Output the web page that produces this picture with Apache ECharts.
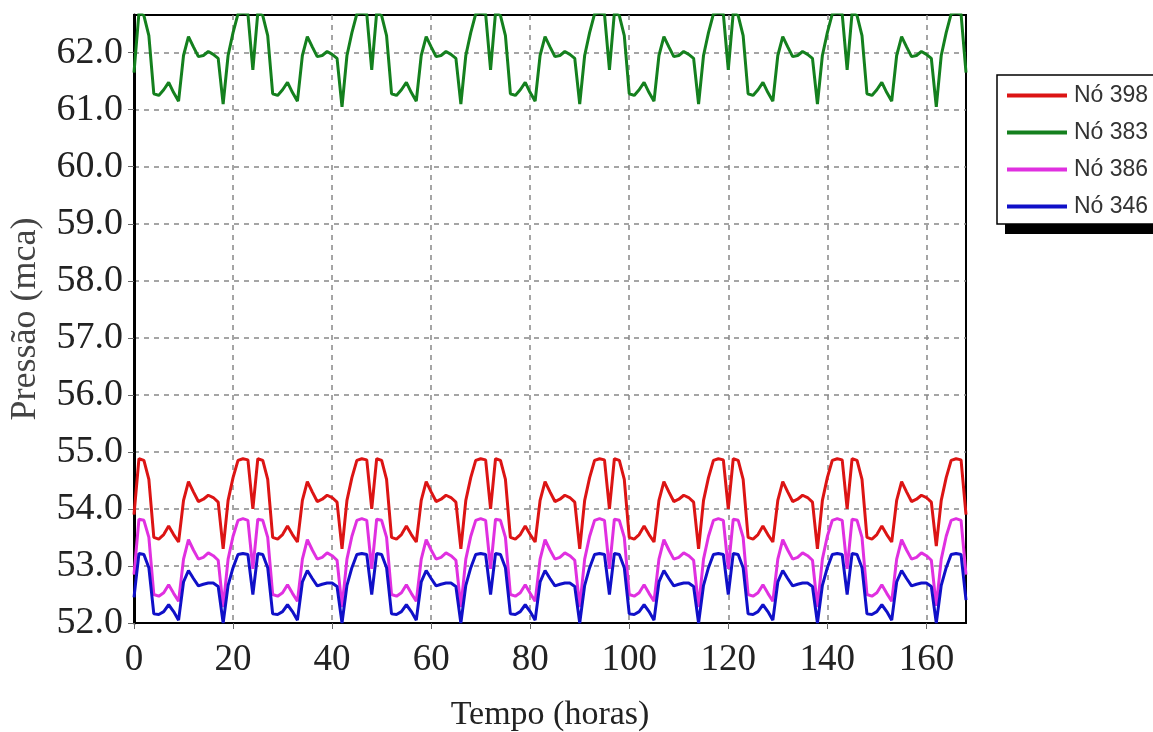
<!DOCTYPE html>
<html>
<head>
<meta charset="utf-8">
<script src="https://cdn.jsdelivr.net/npm/echarts@6/dist/echarts.min.js"></script>
<style>
  html, body { margin: 0; padding: 0; background: #fff; }
  #chart { width: 1153px; height: 732px; }
</style>
</head>
<body>
<div id="chart"></div>
<script>
// hourly values, t = 0..168 h
const hours = [
  0, 1, 2, 3, 4, 5, 6, 7, 8, 9, 10, 11, 12, 13, 14, 15, 16, 17, 18, 19, 20, 21, 22, 23,
  24, 25, 26, 27, 28, 29, 30, 31, 32, 33, 34, 35, 36, 37, 38, 39, 40, 41, 42, 43, 44, 45, 46, 47,
  48, 49, 50, 51, 52, 53, 54, 55, 56, 57, 58, 59, 60, 61, 62, 63, 64, 65, 66, 67, 68, 69, 70, 71,
  72, 73, 74, 75, 76, 77, 78, 79, 80, 81, 82, 83, 84, 85, 86, 87, 88, 89, 90, 91, 92, 93, 94, 95,
  96, 97, 98, 99, 100, 101, 102, 103, 104, 105, 106, 107, 108, 109, 110, 111, 112, 113, 114, 115, 116, 117, 118, 119,
  120, 121, 122, 123, 124, 125, 126, 127, 128, 129, 130, 131, 132, 133, 134, 135, 136, 137, 138, 139, 140, 141, 142, 143,
  144, 145, 146, 147, 148, 149, 150, 151, 152, 153, 154, 155, 156, 157, 158, 159, 160, 161, 162, 163, 164, 165, 166, 167,
  168
];

const no398 = [
  53.9, 54.88, 54.85, 54.52, 53.5, 53.47, 53.55, 53.7, 53.55, 53.42, 54.15, 54.48, 54.3, 54.13, 54.17, 54.24, 54.2, 54.12, 53.3, 54.15, 54.55, 54.85, 54.88, 54.86,
  54.0, 54.88, 54.85, 54.52, 53.5, 53.47, 53.55, 53.7, 53.55, 53.42, 54.15, 54.48, 54.3, 54.13, 54.17, 54.24, 54.2, 54.12, 53.3, 54.15, 54.55, 54.85, 54.88, 54.86,
  54.0, 54.88, 54.85, 54.52, 53.5, 53.47, 53.55, 53.7, 53.55, 53.42, 54.15, 54.48, 54.3, 54.13, 54.17, 54.24, 54.2, 54.12, 53.3, 54.15, 54.55, 54.85, 54.88, 54.86,
  54.0, 54.88, 54.85, 54.52, 53.5, 53.47, 53.55, 53.7, 53.55, 53.42, 54.15, 54.48, 54.3, 54.13, 54.17, 54.24, 54.2, 54.12, 53.3, 54.15, 54.55, 54.85, 54.88, 54.86,
  54.0, 54.88, 54.85, 54.52, 53.5, 53.47, 53.55, 53.7, 53.55, 53.42, 54.15, 54.48, 54.3, 54.13, 54.17, 54.24, 54.2, 54.12, 53.3, 54.15, 54.55, 54.85, 54.88, 54.86,
  54.0, 54.88, 54.85, 54.52, 53.5, 53.47, 53.55, 53.7, 53.55, 53.42, 54.15, 54.48, 54.3, 54.13, 54.17, 54.24, 54.2, 54.12, 53.3, 54.15, 54.55, 54.85, 54.88, 54.86,
  54.0, 54.88, 54.85, 54.52, 53.5, 53.47, 53.55, 53.7, 53.55, 53.42, 54.15, 54.48, 54.3, 54.13, 54.17, 54.24, 54.2, 54.12, 53.35, 54.15, 54.55, 54.85, 54.88, 54.86,
  53.9
];

const no383 = [
  61.65, 62.7, 62.65, 62.3, 61.28, 61.25, 61.35, 61.48, 61.3, 61.15, 61.95, 62.28, 62.1, 61.93, 61.95, 62.02, 61.97, 61.9, 61.1, 61.95, 62.35, 62.68, 62.7, 62.68,
  61.7, 62.7, 62.65, 62.3, 61.28, 61.25, 61.35, 61.48, 61.3, 61.15, 61.95, 62.28, 62.1, 61.93, 61.95, 62.02, 61.97, 61.9, 61.05, 61.95, 62.35, 62.68, 62.7, 62.68,
  61.7, 62.7, 62.65, 62.3, 61.28, 61.25, 61.35, 61.48, 61.3, 61.15, 61.95, 62.28, 62.1, 61.93, 61.95, 62.02, 61.97, 61.9, 61.1, 61.95, 62.35, 62.68, 62.7, 62.68,
  61.7, 62.7, 62.65, 62.3, 61.28, 61.25, 61.35, 61.48, 61.3, 61.15, 61.95, 62.28, 62.1, 61.93, 61.95, 62.02, 61.97, 61.9, 61.1, 61.95, 62.35, 62.68, 62.7, 62.68,
  61.7, 62.7, 62.65, 62.3, 61.28, 61.25, 61.35, 61.48, 61.3, 61.15, 61.95, 62.28, 62.1, 61.93, 61.95, 62.02, 61.97, 61.9, 61.1, 61.95, 62.35, 62.68, 62.7, 62.68,
  61.7, 62.7, 62.65, 62.3, 61.28, 61.25, 61.35, 61.48, 61.3, 61.15, 61.95, 62.28, 62.1, 61.93, 61.95, 62.02, 61.97, 61.9, 61.1, 61.95, 62.35, 62.68, 62.7, 62.68,
  61.7, 62.7, 62.65, 62.3, 61.28, 61.25, 61.35, 61.48, 61.3, 61.15, 61.95, 62.28, 62.1, 61.93, 61.95, 62.02, 61.97, 61.9, 61.05, 61.95, 62.35, 62.68, 62.7, 62.68,
  61.65
];

const no386 = [
  52.85, 53.82, 53.8, 53.5, 52.5, 52.47, 52.53, 52.67, 52.52, 52.38, 53.12, 53.46, 53.28, 53.12, 53.15, 53.23, 53.18, 53.1, 52.28, 53.12, 53.52, 53.8, 53.83, 53.8,
  52.95, 53.82, 53.8, 53.5, 52.5, 52.47, 52.53, 52.67, 52.52, 52.38, 53.12, 53.46, 53.28, 53.12, 53.15, 53.23, 53.18, 53.1, 52.28, 53.12, 53.52, 53.8, 53.83, 53.8,
  52.95, 53.82, 53.8, 53.5, 52.5, 52.47, 52.53, 52.67, 52.52, 52.38, 53.12, 53.46, 53.28, 53.12, 53.15, 53.23, 53.18, 53.1, 52.28, 53.12, 53.52, 53.8, 53.83, 53.8,
  52.95, 53.82, 53.8, 53.5, 52.5, 52.47, 52.53, 52.67, 52.52, 52.38, 53.12, 53.46, 53.28, 53.12, 53.15, 53.23, 53.18, 53.1, 52.28, 53.12, 53.52, 53.8, 53.83, 53.8,
  52.95, 53.82, 53.8, 53.5, 52.5, 52.47, 52.53, 52.67, 52.52, 52.38, 53.12, 53.46, 53.28, 53.12, 53.15, 53.23, 53.18, 53.1, 52.28, 53.12, 53.52, 53.8, 53.83, 53.8,
  52.95, 53.82, 53.8, 53.5, 52.5, 52.47, 52.53, 52.67, 52.52, 52.38, 53.12, 53.46, 53.28, 53.12, 53.15, 53.23, 53.18, 53.1, 52.28, 53.12, 53.52, 53.8, 53.83, 53.8,
  52.95, 53.82, 53.8, 53.5, 52.5, 52.47, 52.53, 52.67, 52.52, 52.38, 53.12, 53.46, 53.28, 53.12, 53.15, 53.23, 53.18, 53.1, 52.3, 53.12, 53.52, 53.8, 53.83, 53.8,
  52.85
];

const no346 = [
  52.45, 53.22, 53.2, 52.97, 52.16, 52.15, 52.2, 52.32, 52.2, 52.05, 52.72, 52.92, 52.78, 52.65, 52.68, 52.7, 52.7, 52.64, 52.0, 52.66, 52.97, 53.2, 53.22, 53.2,
  52.5, 53.22, 53.2, 52.97, 52.16, 52.15, 52.2, 52.32, 52.2, 52.05, 52.72, 52.92, 52.78, 52.65, 52.68, 52.7, 52.7, 52.64, 52.0, 52.66, 52.97, 53.2, 53.22, 53.2,
  52.5, 53.22, 53.2, 52.97, 52.16, 52.15, 52.2, 52.32, 52.2, 52.05, 52.72, 52.92, 52.78, 52.65, 52.68, 52.7, 52.7, 52.64, 52.0, 52.66, 52.97, 53.2, 53.22, 53.2,
  52.5, 53.22, 53.2, 52.97, 52.16, 52.15, 52.2, 52.32, 52.2, 52.05, 52.72, 52.92, 52.78, 52.65, 52.68, 52.7, 52.7, 52.64, 52.0, 52.66, 52.97, 53.2, 53.22, 53.2,
  52.5, 53.22, 53.2, 52.97, 52.16, 52.15, 52.2, 52.32, 52.2, 52.05, 52.72, 52.92, 52.78, 52.65, 52.68, 52.7, 52.7, 52.64, 52.0, 52.66, 52.97, 53.2, 53.22, 53.2,
  52.5, 53.22, 53.2, 52.97, 52.16, 52.15, 52.2, 52.32, 52.2, 52.05, 52.72, 52.92, 52.78, 52.65, 52.68, 52.7, 52.7, 52.64, 52.0, 52.66, 52.97, 53.2, 53.22, 53.2,
  52.5, 53.22, 53.2, 52.97, 52.16, 52.15, 52.2, 52.32, 52.2, 52.05, 52.72, 52.92, 52.78, 52.65, 52.68, 52.7, 52.7, 52.64, 52.0, 52.66, 52.97, 53.2, 53.22, 53.2,
  52.4
];

const seriesNames = ["Nó 398", "Nó 383", "Nó 386", "Nó 346"];
const seriesColors = ["#dc1414", "#14801e", "#e030e0", "#1010c8"];
const seriesValues = [no398, no383, no386, no346];

const chart = echarts.init(document.getElementById("chart"));

const serif = "'Liberation Serif', 'Times New Roman', serif";

chart.setOption({
  backgroundColor: "#fff",
  animation: false,
  grid: {
    left: 134, right: 187, top: 15, bottom: 109,
    outerBoundsMode: "none",
    show: true, borderColor: "#000", borderWidth: 2, backgroundColor: "#fff"
  },
  // legend frame with its drop shadow
  graphic: [
    { type: "rect", z: 0, shape: { x: 1005, y: 86, width: 200, height: 148 }, style: { fill: "#000" } },
    { type: "rect", z: 1, shape: { x: 997, y: 75, width: 200, height: 149 }, style: { fill: "#fff", stroke: "#000", lineWidth: 1.5 } }
  ],
  legend: {
    z: 10,
    orient: "vertical",
    left: 997, top: 84,
    data: seriesNames,
    icon: "rect",
    itemWidth: 60, itemHeight: 4, itemGap: 14,
    padding: [0, 0, 0, 10],
    textStyle: { fontFamily: "'Liberation Sans', Arial, sans-serif", fontSize: 23, lineHeight: 22, color: "#333", padding: [0, 0, 0, 2] }
  },
  xAxis: {
    type: "value",
    min: 0, max: 168, interval: 20,
    name: "Tempo (horas)",
    nameLocation: "middle",
    nameGap: 75,
    nameTextStyle: { fontFamily: serif, fontSize: 34, color: "#222" },
    axisLine: { show: true, lineStyle: { color: "#000", width: 2 } },
    axisTick: { show: true, length: 6, lineStyle: { color: "#666" } },
    axisLabel: { fontFamily: serif, fontSize: 37, color: "#222", margin: 19, showMaxLabel: false },
    splitLine: { show: true, showMinLine: false, showMaxLine: false, lineStyle: { color: "#888", type: [5, 5], width: 1.5 } }
  },
  yAxis: {
    type: "value",
    min: 52, max: 62.66, interval: 1,
    name: "Pressão (mca)",
    nameLocation: "middle",
    nameGap: 90,
    nameTextStyle: { fontFamily: serif, fontSize: 36, color: "#444" },
    axisLine: { show: true, lineStyle: { color: "#000", width: 3 } },
    axisTick: { show: true, length: 6, lineStyle: { color: "#666" } },
    axisLabel: {
      fontFamily: serif, fontSize: 38, color: "#222", margin: 11, showMaxLabel: false,
      formatter: v => (Math.abs(v - Math.round(v)) > 0.01 ? "" : v.toFixed(1))
    },
    splitLine: { show: true, showMaxLine: false, lineStyle: { color: "#888", type: [5, 5], width: 1.5 } }
  },
  series: seriesNames.map((name, i) => ({
    name: name,
    type: "line",
    data: hours.map((h, j) => [h, seriesValues[i][j]]),
    showSymbol: false,
    symbol: "none",
    clip: true,
    lineStyle: { color: seriesColors[i], width: 3 },
    itemStyle: { color: seriesColors[i] }
  }))
});
</script>
</body>
</html>
